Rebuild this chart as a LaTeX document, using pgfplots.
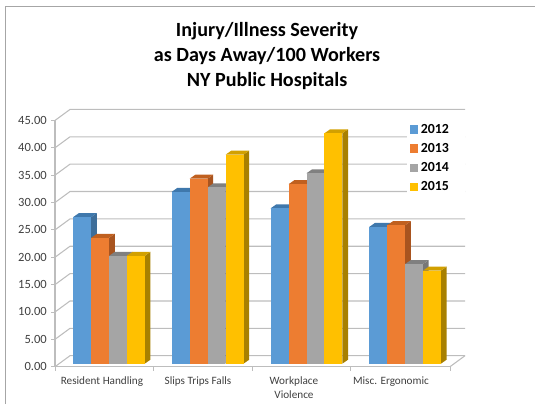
\documentclass[border=0pt]{standalone}
\usepackage{pgfplots}
\pgfplotsset{compat=1.18}
\usepackage{fontspec}
\setmainfont{Carlito}
\definecolor{ca}{HTML}{5B9BD5}\definecolor{cat}{HTML}{3F78AC}\definecolor{cas}{HTML}{3E6E9A}
\definecolor{cb}{HTML}{ED7D31}\definecolor{cbt}{HTML}{C0601F}\definecolor{cbs}{HTML}{A8541F}
\definecolor{cc}{HTML}{A5A5A5}\definecolor{cct}{HTML}{808080}\definecolor{ccs}{HTML}{777777}
\definecolor{cd}{HTML}{FFC000}\definecolor{cdt}{HTML}{D2A000}\definecolor{cds}{HTML}{A88000}
\definecolor{gridc}{HTML}{BDBDBD}
\definecolor{tickc}{HTML}{404040}
% #1 left x in px, #2 value, #3 colour
\newcommand\threedbar[3]{%
  \pgfmathsetmacro\xa{#1}\pgfmathsetmacro\xb{#1+17.9}%
  \pgfmathsetmacro\xc{#1+5.7}\pgfmathsetmacro\xd{#1+23.6}%
  \pgfmathsetmacro\yb{0.55}\pgfmathsetmacro\yc{1.28}%
  \pgfmathsetmacro\yt{#2+0.55}\pgfmathsetmacro\yu{#2+1.28}%
  \addplot[forget plot,draw=none,fill=#3s] coordinates {(\xb,\yb)(\xd,\yc)(\xd,\yu)(\xb,\yt)} --cycle;
  \addplot[forget plot,draw=none,fill=#3t] coordinates {(\xa,\yt)(\xc,\yu)(\xd,\yu)(\xb,\yt)} --cycle;
  \addplot[forget plot,draw=none,fill=#3] coordinates {(\xa,\yb)(\xa,\yt)(\xb,\yt)(\xb,\yb)} --cycle;
}
% #1 value: one grid level on side wall and back wall
\newcommand\gridlevel[1]{%
  \pgfmathsetmacro\ga{#1}\pgfmathsetmacro\gb{#1+2.01}%
  \addplot[forget plot,gridc,line width=0.8pt] coordinates {(55,\ga)(70,\gb)(465,\gb)};
}
\begin{document}
\begin{tikzpicture}[x=0.75pt,y=0.75pt]
\useasboundingbox (0,0) rectangle (535,404);
\draw[color=gray!70,line width=0.75pt] (5.5,0) -- (5.5,397.6) -- (535,397.6);
\coordinate (O) at (55,37.3);
\begin{axis}[
  at={(O)},anchor=south west,
  scale only axis,width=296.25pt,height=184.7pt,
  xmin=55,xmax=450,ymin=0,ymax=45,
  clip=false,
  axis x line=bottom,axis y line=left,
  axis line style={-,gridc,line width=0.8pt},
  ytick={0,5,...,45},
  yticklabel style={/pgf/number format/fixed,/pgf/number format/fixed zerofill,/pgf/number format/precision=2,/pgf/number format/assume math mode=true},
  ticklabel style={font=\fontsize{9.4}{11}\selectfont,text=tickc},
  xtick={102,198,294,391},
  xticklabels={Resident Handling,Slips Trips Falls,{Workplace\\Violence},Misc. Ergonomic},
  xticklabel style={align=center,font=\fontsize{8.4}{11}\selectfont,text=tickc,yshift=-2pt},
  major x tick style={draw=none},
  minor xtick={55,153.3,252,350.7,450},
  minor tick length=3pt,major tick length=3pt,
  tick style={gridc,line width=0.7pt},
  x tick label style={inner sep=2pt},
  y tick label style={inner sep=3pt},
  tick align=outside,
  title={Injury/Illness Severity\\as Days Away/100 Workers\\NY Public Hospitals},
  title style={at={(axis cs:267,55.4)},anchor=center,align=center,
    font=\fontsize{15.1}{18.75}\selectfont\bfseries,text=black},
  legend style={at={(axis cs:407,45.38)},anchor=north west,draw=none,fill=white,
    font=\fontsize{10.4}{12}\selectfont\bfseries,
    inner xsep=2pt,inner ysep=2pt,
    row sep=2pt,
    /tikz/every even column/.append style={column sep=2pt},
    text width=29pt},
  legend cell align=left,
]
% floor and walls
\addplot[forget plot,gridc,line width=0.8pt] coordinates {(450,0)(465,2.01)};
\gridlevel{0}\gridlevel{5}\gridlevel{10}\gridlevel{15}\gridlevel{20}
\gridlevel{25}\gridlevel{30}\gridlevel{35}\gridlevel{40}\gridlevel{45}
\addplot[forget plot,gridc,line width=0.8pt] coordinates {(55,0)(450,0)};
% Resident Handling
\threedbar{73.3}{26.8}{ca}\threedbar{91.2}{23.0}{cb}\threedbar{109.1}{19.7}{cc}\threedbar{126.8}{19.7}{cd}
% Slips Trips Falls
\threedbar{171.7}{31.4}{ca}\threedbar{189.6}{33.8}{cb}\threedbar{207.5}{32.2}{cc}\threedbar{225.6}{38.2}{cd}
% Workplace Violence
\threedbar{270.7}{28.4}{ca}\threedbar{288.6}{32.8}{cb}\threedbar{306.5}{34.8}{cc}\threedbar{324.4}{42.1}{cd}
% Misc. Ergonomic
\threedbar{369.3}{25.0}{ca}\threedbar{387.2}{25.3}{cb}\threedbar{405.1}{18.2}{cc}\threedbar{423.0}{17.0}{cd}
\addlegendimage{area legend,draw=none,fill=ca,legend image code/.code={\fill[ca] (0pt,-3.1pt) rectangle (6.2pt,3.1pt);}}
\addlegendentry{2012}
\addlegendimage{area legend,draw=none,fill=cb,legend image code/.code={\fill[cb] (0pt,-3.1pt) rectangle (6.2pt,3.1pt);}}
\addlegendentry{2013}
\addlegendimage{area legend,draw=none,fill=cc,legend image code/.code={\fill[cc] (0pt,-3.1pt) rectangle (6.2pt,3.1pt);}}
\addlegendentry{2014}
\addlegendimage{area legend,draw=none,fill=cd,legend image code/.code={\fill[cd] (0pt,-3.1pt) rectangle (6.2pt,3.1pt);}}
\addlegendentry{2015}
\end{axis}
\end{tikzpicture}
\end{document}
